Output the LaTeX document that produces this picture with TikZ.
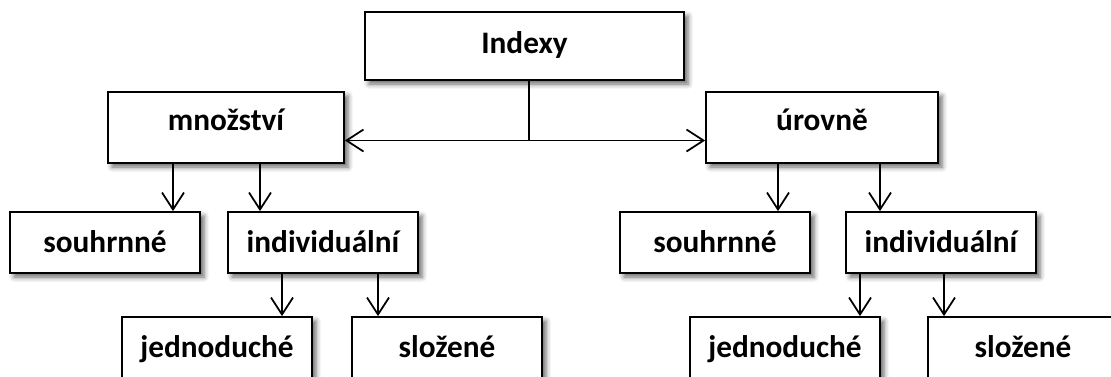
\documentclass[tikz,border=0pt]{standalone}
\usepackage{fontspec}
\setmainfont{Carlito}
\usetikzlibrary{arrows.meta,shadows.blur}

\tikzstyle{box}=[draw, line width=1pt, fill=white, minimum width=3.8cm, minimum height=1.22cm,
  text height=0.45cm, text depth=0.07cm, font=\fontsize{17.8}{20}\selectfont\bfseries,
  blur shadow={shadow xshift=0.08cm, shadow yshift=-0.08cm, shadow blur radius=0.1cm, shadow opacity=60}]
\tikzstyle{mid}=[box, minimum height=1.42cm, text height=0.3cm, text depth=0.2cm]
\tikzstyle{arr}=[line width=1pt, -{Straight Barb[length=3.4mm,width=4.4mm]}]

\begin{document}
\begin{tikzpicture}

\useasboundingbox (0,0) rectangle (22.22,-7.52);
\clip (0,0) rectangle (22.22,-7.52);

\node[box, minimum width=6.38cm, minimum height=1.36cm, text height=0.35cm, text depth=0.07cm] (indexy) at (10.49,-0.92) {Indexy};

\node[mid, minimum width=4.72cm] (mnozstvi) at (4.52,-2.55) {množství};
\node[mid, minimum width=4.64cm] (urovne) at (16.44,-2.55) {úrovně};

\node[box] (souhrnneL) at (2.10,-4.85) {souhrnné};
\node[box] (individualniL) at (6.46,-4.85) {individuální};
\node[box] (souhrnneR) at (14.30,-4.85) {souhrnné};
\node[box] (individualniR) at (18.82,-4.85) {individuální};

\node[box] (jednoducheL) at (4.34,-6.95) {jednoduché};
\node[box] (slozeneL) at (8.94,-6.95) {složené};
\node[box] (jednoducheR) at (15.70,-6.95) {jednoduché};
\node[box] (slozeneR) at (20.46,-6.95) {složené};

% branching below the root
\coordinate (split) at (10.58,-2.81);
\draw[line width=1pt] (split |- indexy.south) -- (split);
\draw[arr] (split) -- (mnozstvi.east |- split);
\draw[arr] (split) -- (urovne.west |- split);

\foreach \x/\a/\b in {3.46/mnozstvi/souhrnneL, 5.20/mnozstvi/individualniL,
  15.56/urovne/souhrnneR, 17.60/urovne/individualniR,
  5.64/individualniL/jednoducheL, 7.56/individualniL/slozeneL,
  17.20/individualniR/jednoducheR, 18.88/individualniR/slozeneR}{
  \draw[arr] (\x,0 |- \a.south) -- (\x,0 |- \b.north);
}

\end{tikzpicture}
\end{document}
